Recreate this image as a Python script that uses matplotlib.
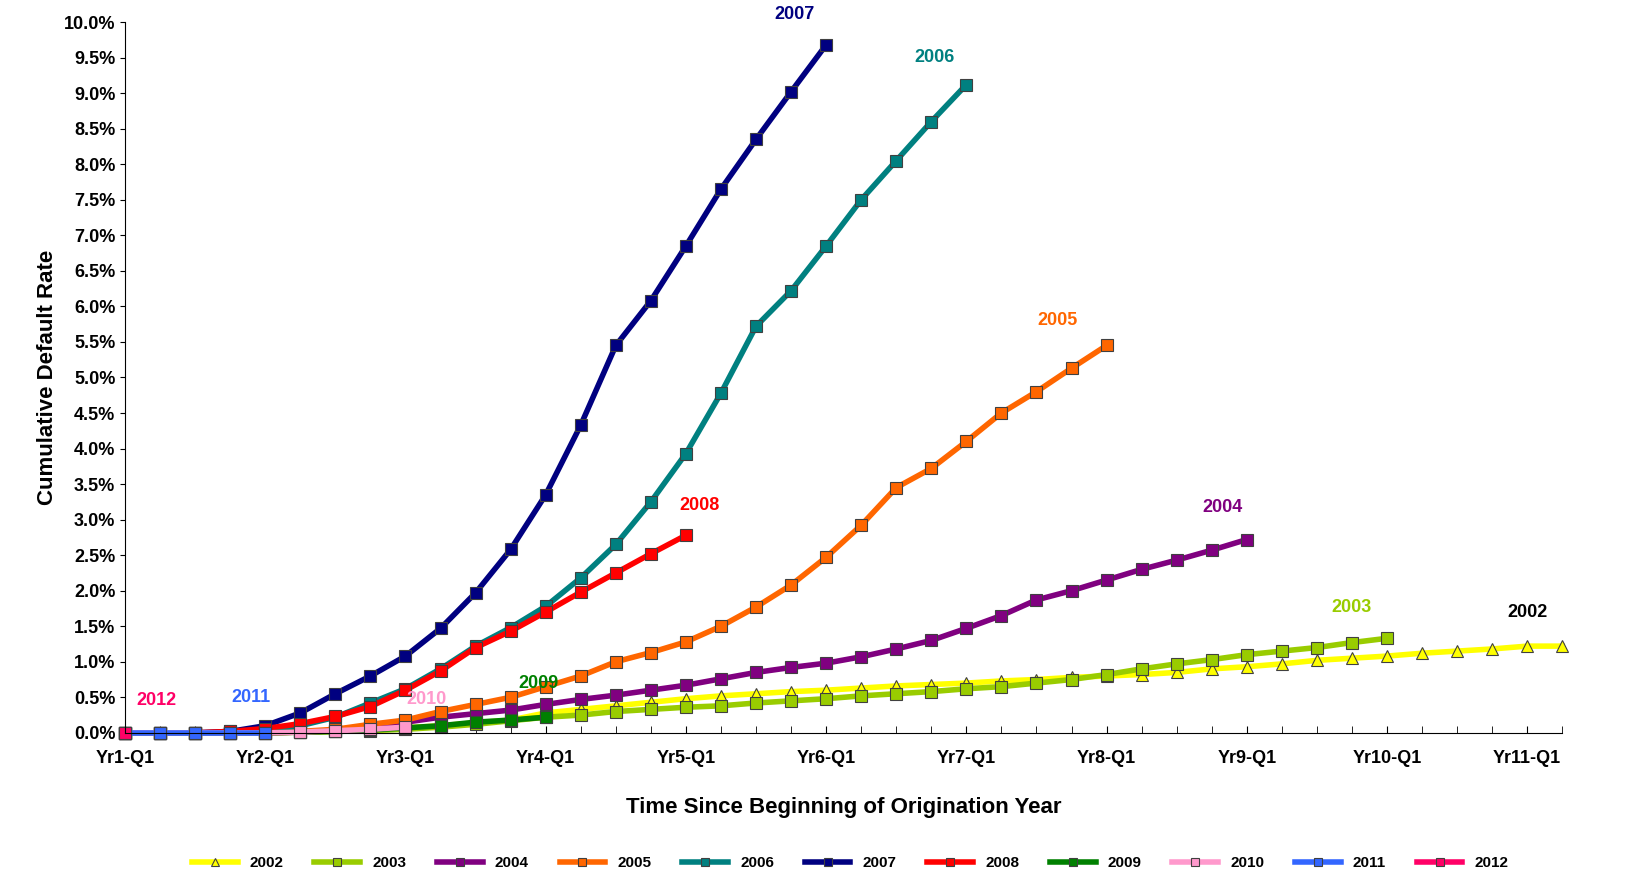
import matplotlib
matplotlib.use("Agg")
import matplotlib.pyplot as plt
from matplotlib.ticker import FuncFormatter, MultipleLocator

plt.rcParams['font.family'] = ['Liberation Sans', 'DejaVu Sans']
plt.rcParams['font.weight'] = 'bold'

years = ['2002', '2003', '2004', '2005', '2006', '2007', '2008', '2009', '2010', '2011', '2012']
colors = ['#ffff00', '#99cc00', '#800080', '#ff6600', '#008080', '#000080',
          '#ff0000', '#008000', '#ff99cc', '#3366ff', '#ff0066']

v2002 = [0, 0, 0, 0, 0, 0.01, 0.02, 0.04, 0.07, 0.1, 0.14, 0.18, 0.28, 0.33, 0.38, 0.43,
         0.48, 0.52, 0.55, 0.58, 0.6, 0.63, 0.66, 0.68, 0.7, 0.73, 0.75, 0.78, 0.8, 0.82,
         0.85, 0.9, 0.93, 0.97, 1.02, 1.05, 1.08, 1.12, 1.15, 1.18, 1.22, 1.22]
v2003 = [0, 0, 0, 0, 0, 0.01, 0.02, 0.03, 0.05, 0.08, 0.12, 0.17, 0.22, 0.25, 0.3, 0.33,
         0.36, 0.38, 0.42, 0.45, 0.48, 0.52, 0.55, 0.58, 0.62, 0.65, 0.7, 0.75, 0.82, 0.9,
         0.97, 1.03, 1.1, 1.15, 1.2, 1.27, 1.33]
v2004 = [0, 0, 0, 0, 0, 0.01, 0.03, 0.08, 0.15, 0.22, 0.27, 0.32, 0.4, 0.47, 0.53, 0.6,
         0.67, 0.76, 0.85, 0.92, 0.98, 1.07, 1.18, 1.3, 1.47, 1.65, 1.87, 2.0, 2.15, 2.3,
         2.43, 2.57, 2.72]
v2005 = [0, 0, 0, 0, 0.01, 0.02, 0.05, 0.12, 0.18, 0.3, 0.4, 0.5, 0.65, 0.8, 1.0, 1.13,
         1.28, 1.5, 1.77, 2.08, 2.47, 2.92, 3.45, 3.72, 4.1, 4.5, 4.8, 5.13, 5.45]
v2006 = [0, 0, 0, 0, 0.04, 0.1, 0.22, 0.42, 0.62, 0.9, 1.22, 1.48, 1.78, 2.18, 2.65, 3.25,
         3.93, 4.78, 5.72, 6.22, 6.85, 7.5, 8.05, 8.6, 9.12]
v2007 = [0, 0, 0, 0.02, 0.1, 0.28, 0.55, 0.8, 1.08, 1.47, 1.97, 2.58, 3.35, 4.33, 5.45,
         6.08, 6.85, 7.65, 8.35, 9.02, 9.68]
v2008 = [0, 0, 0, 0.02, 0.06, 0.13, 0.23, 0.37, 0.6, 0.87, 1.2, 1.43, 1.7, 1.98, 2.25,
         2.52, 2.78]
v2009 = [0, 0, 0, 0, 0, 0.01, 0.02, 0.04, 0.07, 0.1, 0.15, 0.18, 0.22]
v2010 = [0, 0, 0, 0, 0, 0.01, 0.03, 0.05, 0.08]
v2011 = [0, 0, 0, 0, 0]
v2012 = [0]
series = [v2002, v2003, v2004, v2005, v2006, v2007, v2008, v2009, v2010, v2011, v2012]

# label positions (quarter index, percent)
label_pos = [(40.0, 1.7), (35.0, 1.77), (31.3, 3.17), (26.6, 5.8), (23.1, 9.5), (19.1, 10.1),
             (16.4, 3.2), (11.8, 0.7), (8.6, 0.47), (3.6, 0.5), (0.9, 0.45)]

xticks = list(range(0, 41, 4))
xlabels = ['Yr%d-Q1' % (i + 1) for i in range(11)]

fig = plt.figure(figsize=(16.35, 8.84), dpi=100)
ax = fig.add_axes([0.0765, 0.171, 0.879, 0.804])

for yr, vals, c in zip(years, series, colors):
    m = '^' if yr == '2002' else 's'
    ax.plot(range(len(vals)), vals, color=c, lw=4, marker=m, ms=9,
            markeredgecolor='#404040', markeredgewidth=0.8, label=yr, clip_on=False)

for (x, y), yr, c in zip(label_pos, years, colors):
    ax.text(x, y, yr, color='black' if yr == '2002' else c, fontsize=13,
            fontweight='bold', ha='center', va='center')

ax.set_xlim(0, 41)
ax.set_ylim(0, 10)
ax.set_xticks(xticks)
ax.set_xticklabels(xlabels, fontsize=13)
ax.xaxis.set_minor_locator(MultipleLocator(1))
ax.yaxis.set_major_locator(MultipleLocator(0.5))
ax.yaxis.set_major_formatter(FuncFormatter(lambda v, p: '%.1f%%' % v))
ax.tick_params(axis='y', labelsize=13)
ax.tick_params(axis='x', which='both', direction='in', length=5, pad=12)
for s in ['top', 'right']:
    ax.spines[s].set_visible(False)
ax.set_xlabel('Time Since Beginning of Origination Year', fontsize=16, fontweight='bold', labelpad=22)
ax.set_ylabel('Cumulative Default Rate', fontsize=16, fontweight='bold', labelpad=4)

fig.legend(loc='lower center', ncol=11, frameon=False, fontsize=11, bbox_to_anchor=(0.52, 0.0),
           handlelength=3, markerscale=0.6)
fig.savefig('out.png')
